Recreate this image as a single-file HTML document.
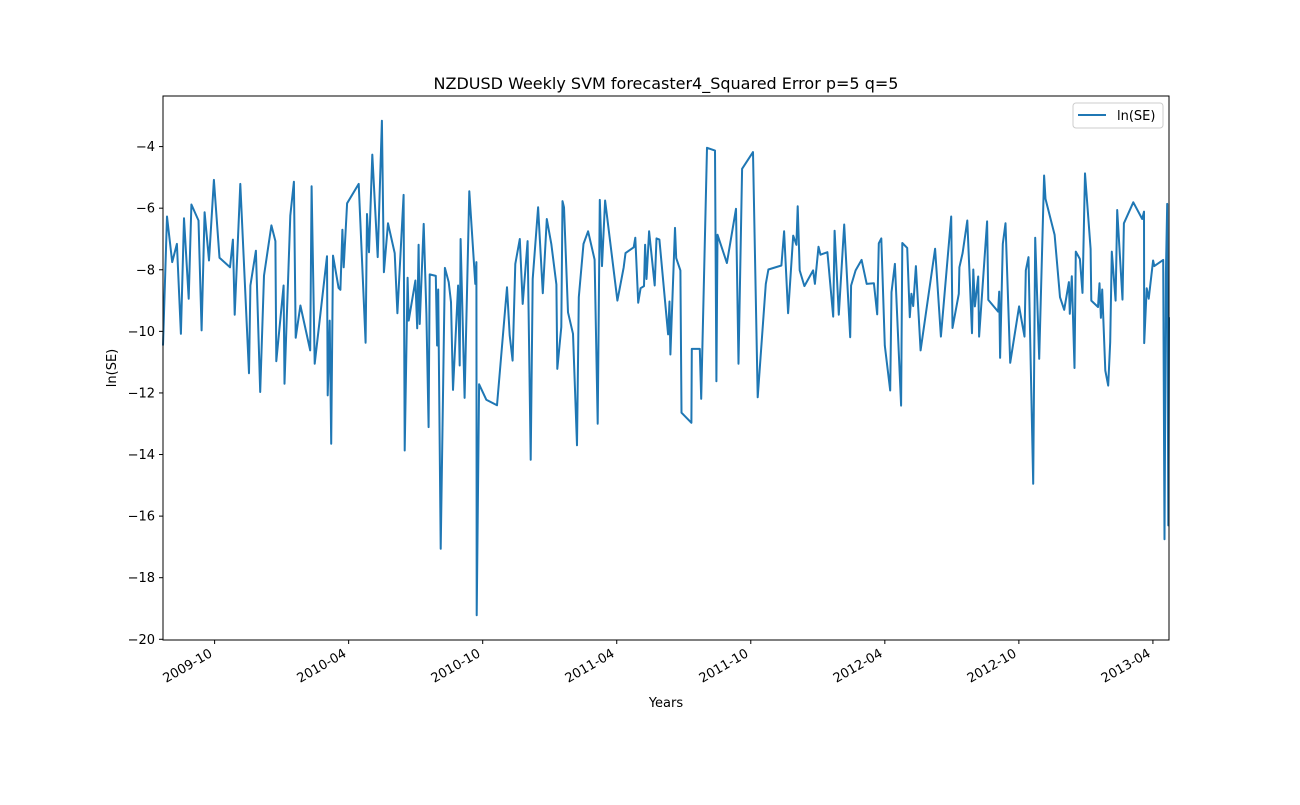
<!DOCTYPE html>
<html><head><meta charset="utf-8"><style>
body{margin:0;background:#fff;}
svg text{font-family:"DejaVu Sans","Liberation Sans",sans-serif;fill:#000;}
</style></head><body>
<svg id="chart" width="1300" height="800" xmlns="http://www.w3.org/2000/svg">
<rect width="1300" height="800" fill="#fff"/>
<text x="666" y="89" font-size="16" text-anchor="middle">NZDUSD Weekly SVM forecaster4_Squared Error p=5 q=5</text>
<text x="666" y="707" font-size="13" text-anchor="middle">Years</text>
<text transform="translate(116,368) rotate(-90)" font-size="13" text-anchor="middle">ln(SE)</text>
<g id="yticks"></g>
<g id="xticks"></g>
<path id="series" fill="none" stroke="#1f77b4" stroke-width="2" stroke-linejoin="round"/>
<rect x="163" y="96" width="1006" height="544" fill="none" stroke="#000" stroke-width="1"/>
<g>
<rect x="1073" y="103" width="90" height="25" rx="3" fill="#fff" fill-opacity="0.8" stroke="#ccc"/>
<line x1="1078" y1="115" x2="1106" y2="115" stroke="#1f77b4" stroke-width="2"/>
<text x="1117" y="120" font-size="13">ln(SE)</text>
</g>
</svg>
<script>
const months=[-2.31,-2.13,-1.90,-1.69,-1.51,-1.37,-1.16,-1.04,-0.72,-0.58,-0.45,-0.25,-0.03,0.22,0.69,0.82,0.90,1.15,1.54,1.60,1.85,2.04,2.21,2.54,2.72,2.76,3.09,3.13,3.39,3.55,3.63,3.84,4.28,4.34,4.48,5.03,5.06,5.15,5.22,5.30,5.55,5.63,5.72,5.78,5.93,6.45,6.76,6.82,6.91,7.06,7.30,7.49,7.58,7.76,8.06,8.18,8.46,8.51,8.64,8.69,8.99,9.07,9.13,9.18,9.36,9.48,9.58,9.63,9.90,9.96,10.01,10.12,10.31,10.48,10.58,10.67,10.90,10.97,11.01,11.19,11.40,11.67,11.72,11.73,11.84,12.16,12.64,13.09,13.21,13.34,13.46,13.66,13.79,14.01,14.15,14.24,14.48,14.69,14.87,15.07,15.30,15.34,15.52,15.57,15.64,15.82,16.04,16.22,16.30,16.51,16.72,17.01,17.15,17.24,17.34,17.48,18.03,18.31,18.39,18.76,18.83,18.96,19.07,19.22,19.27,19.33,19.45,19.70,19.78,19.91,20.30,20.36,20.40,20.61,20.66,20.85,20.90,21.34,21.36,21.72,21.78,22.04,22.40,22.46,22.51,22.93,23.34,23.45,23.61,24.10,24.31,24.67,24.79,25.37,25.49,25.67,25.90,26.04,26.10,26.19,26.40,26.79,26.87,27.03,27.12,27.43,27.69,27.75,27.94,28.18,28.45,28.49,28.69,28.96,29.19,29.51,29.66,29.73,29.84,30.00,30.24,30.30,30.45,30.73,30.78,31.00,31.12,31.19,31.27,31.39,31.60,32.25,32.51,32.97,33.03,33.31,33.34,33.48,33.69,33.90,33.96,34.03,34.18,34.22,34.58,34.63,35.07,35.12,35.16,35.28,35.40,35.61,36.01,36.25,36.31,36.43,36.64,36.73,36.91,37.13,37.19,37.60,37.84,38.03,38.24,38.28,38.37,38.49,38.55,38.73,38.85,38.96,39.21,39.24,39.54,39.61,39.67,39.73,39.87,40.00,40.09,40.16,40.33,40.40,40.64,40.70,41.12,41.52,41.60,41.61,41.72,41.81,42.01,42.06,42.46,42.52,42.58,42.64,42.69,42.72];
const values=[-10.46,-6.27,-7.75,-7.16,-10.08,-6.33,-8.94,-5.88,-6.40,-9.97,-6.13,-7.70,-5.08,-7.61,-7.92,-7.02,-9.46,-5.21,-11.36,-8.51,-7.38,-11.97,-8.19,-6.56,-7.07,-10.97,-8.51,-11.70,-6.24,-5.14,-10.21,-9.16,-10.62,-5.29,-11.05,-7.56,-12.08,-9.65,-13.65,-7.54,-8.59,-8.65,-6.70,-7.92,-5.84,-5.21,-10.37,-6.19,-7.43,-4.26,-7.59,-3.16,-8.08,-6.49,-7.46,-9.41,-5.57,-13.87,-8.26,-9.65,-8.35,-9.90,-7.19,-9.76,-6.51,-9.43,-13.11,-8.15,-8.20,-10.46,-8.64,-17.06,-7.94,-8.40,-9.05,-11.90,-8.51,-11.11,-7.00,-12.16,-5.45,-8.46,-7.75,-19.22,-11.72,-12.22,-12.40,-8.57,-10.13,-10.95,-7.81,-7.00,-9.11,-7.07,-14.17,-8.30,-5.97,-8.76,-6.35,-7.16,-8.48,-11.22,-9.86,-5.77,-5.97,-9.38,-10.08,-13.70,-8.89,-7.16,-6.75,-7.67,-13.00,-5.73,-7.88,-5.75,-9.00,-7.92,-7.46,-7.27,-6.96,-9.07,-8.60,-8.53,-7.19,-8.30,-6.75,-8.51,-6.98,-7.02,-10.10,-9.03,-10.75,-6.64,-7.62,-8.02,-12.64,-12.97,-10.57,-10.57,-12.19,-4.04,-4.13,-11.62,-6.86,-7.78,-6.02,-11.05,-4.72,-4.18,-12.14,-8.46,-7.99,-7.86,-6.75,-9.41,-6.89,-7.19,-5.94,-8.02,-8.53,-8.02,-8.46,-7.25,-7.51,-7.43,-9.52,-6.73,-9.46,-6.53,-10.19,-8.51,-8.02,-7.68,-8.46,-8.44,-9.45,-7.14,-6.98,-10.46,-11.92,-8.73,-7.81,-12.41,-7.13,-7.29,-9.54,-8.78,-9.18,-7.88,-10.62,-7.32,-10.17,-6.27,-9.89,-8.78,-7.92,-7.46,-6.40,-10.06,-7.99,-9.19,-8.22,-10.17,-6.43,-8.98,-9.36,-8.71,-10.86,-7.16,-6.49,-11.02,-9.19,-10.17,-8.02,-7.59,-14.95,-6.96,-10.89,-4.94,-5.70,-6.86,-8.89,-9.30,-8.40,-9.43,-8.21,-11.19,-7.41,-7.65,-8.75,-4.87,-7.32,-9.00,-9.21,-8.44,-9.56,-8.64,-11.27,-11.76,-10.35,-7.41,-9.00,-6.06,-8.97,-6.49,-5.81,-6.35,-6.11,-10.38,-8.60,-8.94,-7.70,-7.88,-7.68,-16.75,-8.13,-5.86,-16.30,-9.54];
const yTicks=[-20,-18,-16,-14,-12,-10,-8,-6,-4];
const yTickLabels=["\u221220","\u221218","\u221216","\u221214","\u221212","\u221210","\u22128","\u22126","\u22124"];
const xTicks=[0,6,12,18,24,30,36,42];
const xTickLabels=["2009-10","2010-04","2010-10","2011-04","2011-10","2012-04","2012-10","2013-04"];

const L=163,R=1169,T=96,B=640;
const xmin=Math.min(...months), xmax=Math.max(...months);
const vmin=Math.min(...values), vmax=Math.max(...values), pad=(vmax-vmin)*0.05;
const ymin=vmin-pad, ymax=vmax+pad;
const sx=m=>L+(m-xmin)/(xmax-xmin)*(R-L);
const sy=v=>B-(v-ymin)/(ymax-ymin)*(B-T);
const NS="http://www.w3.org/2000/svg";
let d="";
months.forEach((m,i)=>{d+=(i?"L":"M")+sx(m).toFixed(1)+","+sy(values[i]).toFixed(1);});
document.getElementById("series").setAttribute("d",d);
const yg=document.getElementById("yticks");
yTicks.forEach((t,i)=>{
  const y=sy(t);
  const ln=document.createElementNS(NS,"line");
  ln.setAttribute("x1",L-4);ln.setAttribute("x2",L);ln.setAttribute("y1",y);ln.setAttribute("y2",y);ln.setAttribute("stroke","#000");
  
  
  yg.appendChild(ln);
  const tx=document.createElementNS(NS,"text");
  tx.setAttribute("x",L-8);tx.setAttribute("y",y+4.5);tx.setAttribute("font-size","13");tx.setAttribute("text-anchor","end");
  tx.textContent=yTickLabels[i];
  
  
  yg.appendChild(tx);
});
const xg=document.getElementById("xticks");
xTicks.forEach((t,i)=>{
  const x=sx(t);
  const ln=document.createElementNS(NS,"line");
  ln.setAttribute("x1",x);ln.setAttribute("x2",x);ln.setAttribute("y1",B);ln.setAttribute("y2",B+4);ln.setAttribute("stroke","#000");
  
  
  xg.appendChild(ln);
  const tx=document.createElementNS(NS,"text");
  tx.setAttribute("transform","translate("+(x-6)+","+(B+8)+") rotate(-30)");
  tx.setAttribute("font-size","13");tx.setAttribute("text-anchor","end");tx.setAttribute("dy","0.7em");
  tx.textContent=xTickLabels[i];
  
  
  xg.appendChild(tx);
});
</script>
</body></html>
